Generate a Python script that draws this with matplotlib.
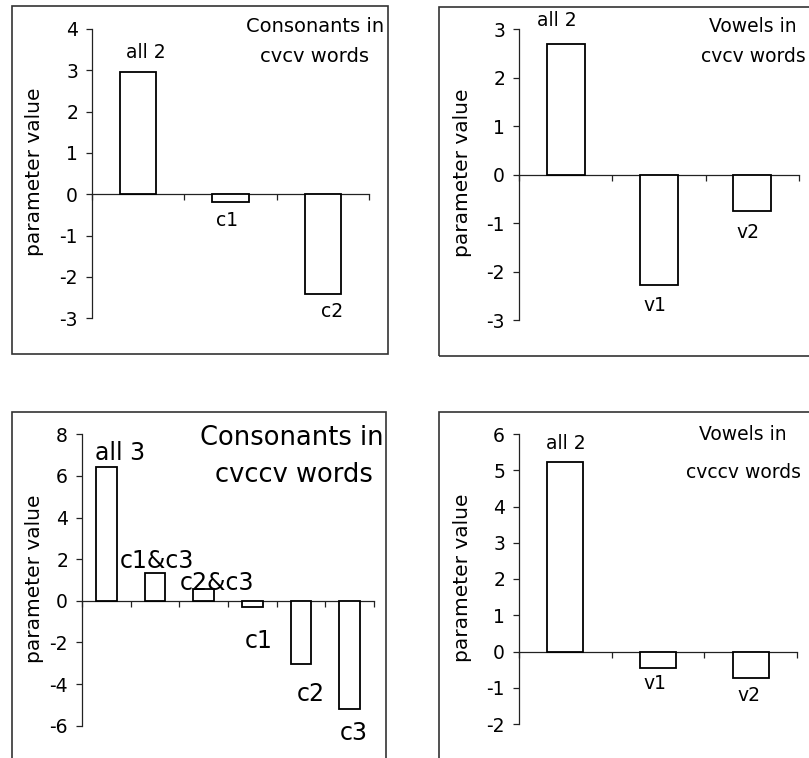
import matplotlib
matplotlib.use('Agg')
import matplotlib.pyplot as plt
from matplotlib.patches import Rectangle

# Data
tl_labels = ['all 2', 'c1', 'c2']
tl_values = [2.95, -0.19, -2.41]
tl_title = ['Consonants in', 'cvcv words']

tr_labels = ['all 2', 'v1', 'v2']
tr_values = [2.69, -2.27, -0.75]
tr_title = ['Vowels in', 'cvcv words']

bl_labels = ['all 3', 'c1&c3', 'c2&c3', 'c1', 'c2', 'c3']
bl_values = [6.44, 1.36, 0.59, -0.29, -3.04, -5.18]
bl_title = ['Consonants in', 'cvccv words']

br_labels = ['all 2', 'v1', 'v2']
br_values = [5.22, -0.46, -0.73]
br_title = ['Vowels in', 'cvccv words']

ylabel = 'parameter value'

W, H = 809, 758
plt.rcParams['font.family'] = 'DejaVu Sans'
plt.rcParams['axes.unicode_minus'] = False
fig = plt.figure(figsize=(W / 100, H / 100), dpi=100)


def fx(x):
    return x / W


def fy(y):
    return 1 - y / H


def panel(frame, axbox, ylim, step, labels, values, width, offsets, title,
          title_pos, title_size, label_size, ylabel_pos):
    # outer frame of the panel (in pixels)
    x0, y0, x1, y1 = frame
    fig.add_artist(Rectangle((fx(x0), fy(y1)), fx(x1 - x0), (y1 - y0) / H,
                             transform=fig.transFigure, fill=False,
                             edgecolor='#333333', linewidth=1.2))
    # axes
    l, t, r, b = axbox
    ax = fig.add_axes([fx(l), fy(b), fx(r - l), (b - t) / H])
    n = len(values)
    pos = [i + 0.5 for i in range(n)]
    ax.bar(pos, values, width=width, color='white', edgecolor='black',
           linewidth=1.3, zorder=3)
    ax.set_xlim(0, n)
    ax.set_ylim(*ylim)
    ax.set_yticks(range(ylim[0], ylim[1] + 1, step))
    ax.set_xticks(range(0, n + 1))
    ax.set_xticklabels([])
    ax.spines['top'].set_visible(False)
    ax.spines['right'].set_visible(False)
    ax.spines['bottom'].set_position(('data', 0))
    for s in ('left', 'bottom'):
        ax.spines[s].set_linewidth(0.9)
        ax.spines[s].set_color('#222222')
    ax.tick_params(axis='y', direction='out', length=4, width=0.9, pad=6,
                   labelsize=13.5, color='#222222')
    ax.tick_params(axis='x', direction='out', length=4.3, width=0.9,
                   color='#222222')
    ax.patch.set_alpha(0)
    for p, v, lab, (dx, dy) in zip(pos, values, labels, offsets):
        ax.annotate(lab, xy=(p, v), xytext=(dx, dy), textcoords='offset pixels',
                    ha='center', va='center', fontsize=label_size)
    for line, (tx, ty) in zip(title, title_pos):
        fig.text(fx(tx), fy(ty), line, ha='center', va='center',
                 fontsize=title_size)
    fig.text(fx(ylabel_pos[0]), fy(ylabel_pos[1]), ylabel, rotation=90,
             ha='center', va='center', fontsize=14.5)
    return ax


panel((12, 6, 388, 354), (92, 29, 369, 318.3), (-3, 4), 1, tl_labels,
      tl_values, 0.39, [(8, 20), (-3, -18), (9, -18)], tl_title,
      [(315, 26), (314, 56)], 14, 13.5, (35, 172))

panel((439, 7, 830, 356), (519, 29.3, 799, 320), (-3, 3), 1, tr_labels,
      tr_values, 0.41, [(-9, 24), (-4, -21), (-4, -22)], tr_title,
      [(753, 26), (753, 57)], 13.5, 13.5, (462, 173))

panel((12, 412, 386, 780), (82, 434.3, 374, 725.7), (-6, 8), 2, bl_labels,
      bl_values, 0.43,
      [(14, 14), (2, 12), (13, 6), (6, -34), (10, -30), (4, -24)], bl_title,
      [(292, 438), (294, 475)], 18.5, 17, (35, 579))

panel((439, 412, 830, 780), (519, 434, 797, 724), (-2, 6), 1, br_labels,
      br_values, 0.39, [(0, 19), (-3, -15), (-2, -18)], br_title,
      [(743, 434), (743, 472)], 13.5, 13.5, (462, 578))

fig.savefig('out.png', dpi=100)
